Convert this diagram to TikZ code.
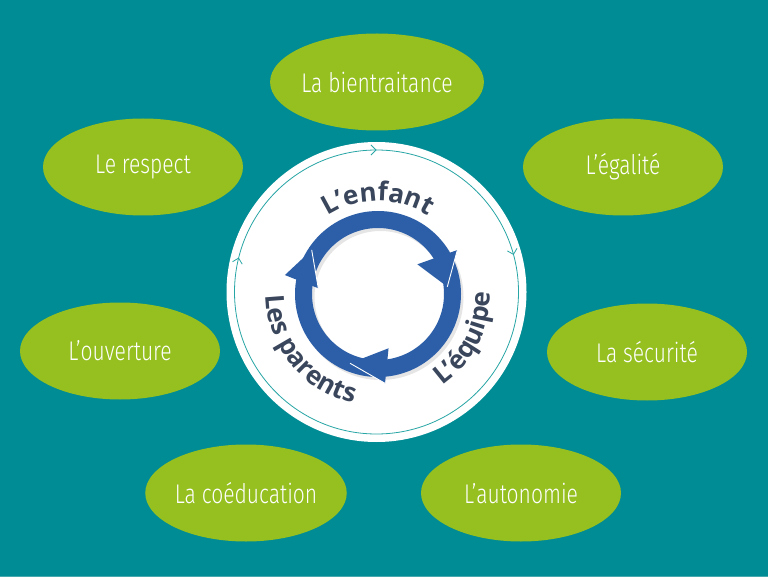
\documentclass[tikz,border=0pt]{standalone}
\usepackage{fontspec}
\usetikzlibrary{shapes.geometric,decorations.text,decorations.markings,arrows.meta}
\newfontfamily\labfont[FakeStretch=0.78]{Fira Sans Light}
\newfontfamily\ctrfont{Open Sans}
\definecolor{bgteal}{RGB}{0,140,148}
\definecolor{bgline}{RGB}{70,170,172}
\definecolor{leaf}{RGB}{149,192,31}
\definecolor{ringblue}{RGB}{44,95,168}
\definecolor{thinteal}{RGB}{40,165,165}
\definecolor{ctext}{RGB}{58,70,92}
\tikzset{
  ell/.style={ellipse, fill=leaf, minimum width=200pt, minimum height=97pt, inner sep=0pt,
    text=white, font=\labfont\fontsize{27pt}{29pt}\selectfont},
  headstyle/.style={fill=ringblue},
  whiteedge/.style={draw=white, line width=0.9pt},
}
\begin{document}
\begin{tikzpicture}[x=1pt,y=1pt]
\useasboundingbox (0,0) rectangle (768,-577);
\fill[bgteal] (0,0) rectangle (768,-577);
\fill[bgline] (0,-575.8) rectangle (768,-577);

% green ellipses
\node[ell] (bien) at (377,-82) {La bientraitance};
\node[ell] (resp) at (143,-167) {Le respect};
\node[ell] (egal) at (623,-167) {L’égalité};
\node[ell] (ouv) at (120,-351) {L’ouverture};
\node[ell] (secu) at (647,-352) {La sécurité};
\node[ell] (coed) at (246,-493) {La coéducation};
\node[ell] (auto) at (521,-493) {L’autonomie};

% white disc
\node[circle, fill=white, minimum size=300pt, inner sep=0pt] (disc) at (376.5,-292) {};

% thin circle with arrows
\begin{scope}[shift={(376.5,-292)}]
\draw[thinteal, line width=0.8pt,
  decoration={markings,
    mark=at position 0.039 with {\arrow{Straight Barb[length=5pt,width=10pt]}},
    mark=at position 0.25 with {\arrow{Straight Barb[length=5pt,width=10pt]}},
    mark=at position 0.458 with {\arrow{Straight Barb[length=5pt,width=10pt]}}},
  postaction={decorate}]
  (180:142) arc[start angle=180, end angle=-180, radius=142];
\end{scope}

% blue cycle ring
\begin{scope}[shift={(378,-294)}]
\fill[black, opacity=0.10, even odd rule] (2.5,-3) circle[radius=83] (2.5,-3) circle[radius=66];
\fill[ringblue, even odd rule] (0,0) circle[radius=83] (0,0) circle[radius=66];
% heads
\fill[headstyle] (37:49.3) -- (29:90.7) -- (6:69.7) -- cycle;
\draw[whiteedge] (29:90.7) -- (6:69.7);
\fill[headstyle] (-79:55.3) -- (-85.5:89.6) -- (-112:74.7) -- cycle;
\draw[whiteedge] (-112:74.7) -- (-85.5:89.6);
\fill[headstyle] (174.5:60) -- (168.5:95) -- (146.4:79.6) -- cycle;
\draw[whiteedge] (146.4:79.6) -- (174.5:60);

% curved labels
\path[decorate, decoration={text along path, text align=center,
   text={|\ctrfont\bfseries\fontsize{26pt}{26pt}\selectfont\color{ctext}|L’enfant}}]
   (140:93) arc[start angle=140, end angle=40, radius=93];
\path[decorate, decoration={text along path, text align=center,
   text={|\ctrfont\bfseries\fontsize{26pt}{26pt}\selectfont\color{ctext}|L’équipe}}]
   (-87:112) arc[start angle=-87, end angle=33, radius=112];
\path[decorate, decoration={text along path, text align=center,
   text={|\ctrfont\bfseries\fontsize{26pt}{26pt}\selectfont\color{ctext}|Les parents}}]
   (159:112) arc[start angle=159, end angle=279, radius=112];
\end{scope}
\end{tikzpicture}
\end{document}
